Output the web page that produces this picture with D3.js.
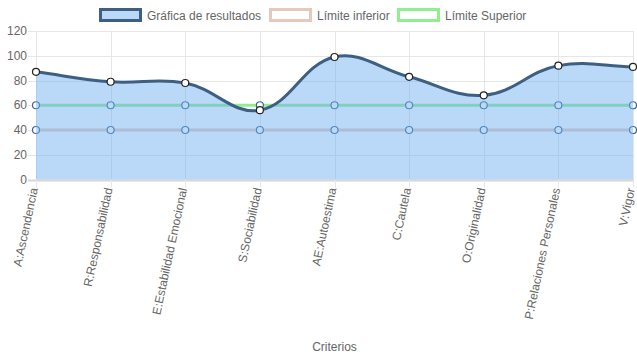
<!DOCTYPE html>
<html><head><meta charset="utf-8">
<script src="https://cdn.jsdelivr.net/npm/d3@7"></script>
<style>body{margin:0;background:#fff}svg{display:block;font-family:"Liberation Sans",Arial,Helvetica,sans-serif}</style>
</head><body><svg id="c" width="637" height="359"></svg>
<script>
const categories = ["A:Ascendencia","R:Responsabilidad","E:Estabilidad Emocional","S:Sociabilidad","AE:Autoestima","C:Cautela","O:Originalidad","P:Relaciones Personales","V:Vigor"];
const resultados = [87, 79, 78, 56, 99, 83, 68, 92, 91];
const limiteInferior = [40, 40, 40, 40, 40, 40, 40, 40, 40];
const limiteSuperior = [60, 60, 60, 60, 60, 60, 60, 60, 60];
const yTicks = [0, 20, 40, 60, 80, 100, 120];
const legendLabels = ["Gráfica de resultados", "Límite inferior", "Límite Superior"];
const axisTitle = "Criterios";

const svg = d3.select("#c");
const L = 36, R = 633, T = 31, B = 179.5;
const x = d3.scalePoint().domain(categories).range([L, R]);
const y = d3.scaleLinear().domain([0, 120]).range([B, T]);

// grid
const g = svg.append("g");
yTicks.forEach(v => {
  g.append("line").attr("x1", L - 8).attr("x2", R).attr("y1", Math.round(y(v)) + 0.5).attr("y2", Math.round(y(v)) + 0.5)
    .attr("stroke", v === 0 ? "#d6d6d6" : "#e6e6e6").attr("stroke-width", v === 0 ? 2 : 1);
  g.append("text").attr("x", 27).attr("y", y(v)).attr("text-anchor", "end").attr("dominant-baseline", "central")
    .attr("fill", "#666").attr("font-size", 12).text(v);
});
categories.forEach(c => {
  g.append("line").attr("x1", Math.round(x(c)) + 0.5).attr("x2", Math.round(x(c)) + 0.5).attr("y1", T).attr("y2", B + 8)
    .attr("stroke", "#e6e6e6").attr("stroke-width", 1);
});

// Chart.js-like spline
function splinePath(vals, close) {
  const pts = vals.map((v, i) => [x(categories[i]), y(v)]);
  const t = 0.4;
  const cps = pts.map((p, i) => {
    const prev = pts[i - 1] || p, next = pts[i + 1] || p;
    const d01 = Math.hypot(p[0] - prev[0], p[1] - prev[1]);
    const d12 = Math.hypot(next[0] - p[0], next[1] - p[1]);
    let s01 = d01 / (d01 + d12), s12 = d12 / (d01 + d12);
    if (!isFinite(s01)) s01 = 0; if (!isFinite(s12)) s12 = 0;
    const fa = t * s01, fb = t * s12;
    return {
      prev: [p[0] - fa * (next[0] - prev[0]), p[1] - fa * (next[1] - prev[1])],
      next: [p[0] + fb * (next[0] - prev[0]), p[1] + fb * (next[1] - prev[1])]
    };
  });
  const path = d3.path();
  path.moveTo(pts[0][0], pts[0][1]);
  for (let i = 1; i < pts.length; i++) {
    const c1 = cps[i - 1].next, c2 = cps[i].prev;
    path.bezierCurveTo(c1[0], c1[1], c2[0], c2[1], pts[i][0], pts[i][1]);
  }
  if (close) {
    path.lineTo(pts[pts.length - 1][0], y(0));
    path.lineTo(pts[0][0], y(0));
    path.closePath();
  }
  return path.toString();
}

// limit lines (drawn below results)
const limits = [
  {vals: limiteSuperior, color: "#90ee90"},
  {vals: limiteInferior, color: "#e6c9bd"}
];
limits.forEach(s => {
  svg.append("path").attr("d", splinePath(s.vals, false)).attr("fill", "none").attr("stroke", s.color).attr("stroke-width", 3);
  s.vals.forEach((v, i) => {
    svg.append("circle").attr("cx", x(categories[i])).attr("cy", y(v)).attr("r", 3.5)
      .attr("fill", "#fff").attr("stroke", "#3a6590").attr("stroke-width", 1.2);
  });
});

// results area + line
svg.append("path").attr("d", splinePath(resultados, true)).attr("fill", "rgba(110,175,240,0.48)").attr("stroke", "none");
svg.append("path").attr("d", splinePath(resultados, false)).attr("fill", "none").attr("stroke", "#3d5f82").attr("stroke-width", 3);
resultados.forEach((v, i) => {
  svg.append("circle").attr("cx", x(categories[i])).attr("cy", y(v)).attr("r", 3.5)
    .attr("fill", "#fff").attr("stroke", "#222").attr("stroke-width", 1.2);
});

// x labels
categories.forEach(c => {
  svg.append("text").attr("transform", `translate(${x(c) - 2},${188}) rotate(-78)`)
    .attr("text-anchor", "end").attr("dominant-baseline", "central").attr("fill", "#666").attr("font-size", 12).text(c);
});
svg.append("text").attr("x", (L + R) / 2).attr("y", 347).attr("text-anchor", "middle").attr("dominant-baseline", "central")
  .attr("fill", "#666").attr("font-size", 12).text(axisTitle);

// legend
const legend = [
  {x: 100, fill: "rgba(110,175,240,0.48)", stroke: "#3d5f82"},
  {x: 270, fill: "#fff", stroke: "#e6c9bd"},
  {x: 398, fill: "#fff", stroke: "#90ee90"}
];
legend.forEach((l, i) => {
  svg.append("rect").attr("x", l.x + 0.5).attr("y", 9.5).attr("width", 40).attr("height", 11)
    .attr("fill", l.fill).attr("stroke", l.stroke).attr("stroke-width", 3);
  svg.append("text").attr("x", l.x + 47).attr("y", 15.5).attr("dominant-baseline", "central")
    .attr("fill", "#666").attr("font-size", 12).text(legendLabels[i]);
});
</script></body></html>
